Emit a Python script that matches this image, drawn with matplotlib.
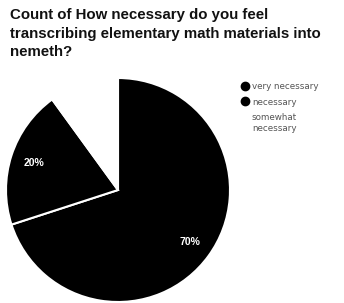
import matplotlib
matplotlib.use("Agg")
import matplotlib.pyplot as plt
from matplotlib.lines import Line2D
import numpy as np

categories = ["very necessary", "necessary", "somewhat\nnecessary"]
counts = [7, 2, 1]
slice_colors = ["#000000", "#000000", "#ffffff"]
pct_labels = ["70%", "20%", ""]

W, H = 344, 303
fig = plt.figure(figsize=(W / 100, H / 100), dpi=100)
fig.patch.set_facecolor("white")

cx, cy, r = 118, 190, 112
ax = fig.add_axes([(cx - r) / W, (H - cy - r) / H, 2 * r / W, 2 * r / H])
wedges, _ = ax.pie(counts, colors=slice_colors, startangle=90, counterclock=False,
                   wedgeprops=dict(edgecolor="white", linewidth=1.5))
ax.set_aspect("equal")
ax.set_xlim(-1, 1)
ax.set_ylim(-1, 1)

total = sum(counts)
start = 90.0
for c, lab in zip(counts, pct_labels):
    ang = start - 360 * c / total / 2
    start -= 360 * c / total
    if lab:
        d = 0.79
        ax.text(d * np.cos(np.radians(ang)), d * np.sin(np.radians(ang)), lab,
                ha="center", va="center", color="white", fontsize=7.5,
                fontweight="bold", family="Liberation Sans")

fig.text(10 / W, 1 - 8 / H,
         "Count of How necessary do you feel\ntranscribing elementary math materials into\nnemeth?",
         ha="left", va="top", fontsize=10.8, fontweight="bold", family="Liberation Sans",
         linespacing=1.42, color="#111111")

handles = [Line2D([], [], marker="o", linestyle="none", markersize=6,
                  markerfacecolor=col, markeredgecolor=col) for col in slice_colors]
fig.legend(handles, categories, loc="upper left",
           bbox_to_anchor=(241 / W, 1 - 82 / H), frameon=False,
           labelcolor="#555555", handlelength=0.8, handletextpad=0.45,
           borderaxespad=0, borderpad=0, labelspacing=0.75,
           prop=dict(family="DejaVu Sans", size=6.3))

fig.savefig("out.png", dpi=100, facecolor="white")
